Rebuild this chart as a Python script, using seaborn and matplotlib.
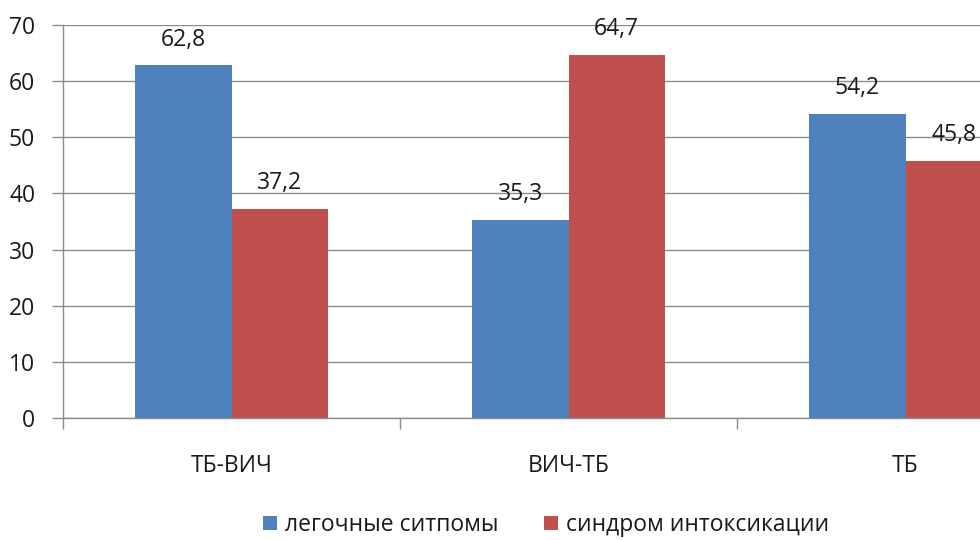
import matplotlib
matplotlib.use("Agg")
import matplotlib.pyplot as plt
from matplotlib.patches import Patch
import seaborn as sns
import pandas as pd

categories = ["ТБ-ВИЧ", "ВИЧ-ТБ", "ТБ"]
series_names = ["легочные ситпомы", "синдром интоксикации"]
lung_symptoms = [62.8, 35.3, 54.2]
intoxication = [37.2, 64.7, 45.8]
y_ticks = [0, 10, 20, 30, 40, 50, 60, 70]

colors = ["#4F81BD", "#C0504D"]
grid_color = "#8C8C8C"
text_color = "#1a1a1a"
fs = 16.5

sns.set_theme(style="white")
plt.rcParams["font.family"] = ["Open Sans", "DejaVu Sans"]

df = pd.DataFrame({
    "group": categories * 2,
    "series": [series_names[0]] * 3 + [series_names[1]] * 3,
    "value": lung_symptoms + intoxication,
})

fig = plt.figure(figsize=(9.8, 5.4), dpi=100)
ax = fig.add_axes([63 / 980, 122 / 540, 1011 / 980, 393 / 540])

sns.barplot(data=df, x="group", y="value", hue="series", order=categories,
            hue_order=series_names, palette=colors, width=0.57,
            saturation=1, legend=False, linewidth=0, ax=ax)

for container, vals in zip(ax.containers, [lung_symptoms, intoxication]):
    ax.bar_label(container, labels=[f"{v:.1f}".replace(".", ",") for v in vals],
                 padding=10, fontsize=fs, color=text_color)

ax.set_xlim(-0.5, 2.5)
ax.set_ylim(0, 70)
ax.set_yticks(y_ticks)
ax.yaxis.grid(True, color=grid_color, linewidth=1)
ax.set_axisbelow(True)
ax.set_xlabel("")
ax.set_ylabel("")

for side in ["top", "right"]:
    ax.spines[side].set_visible(False)
for side in ["left", "bottom"]:
    ax.spines[side].set_color(grid_color)
    ax.spines[side].set_linewidth(1)

ax.tick_params(axis="y", which="major", left=True, length=8, width=1,
               color=grid_color, labelsize=fs, labelcolor=text_color, pad=12)
ax.set_xticks([0, 1, 2])
ax.set_xticklabels(categories)
ax.tick_params(axis="x", which="major", bottom=False, labelsize=fs,
               labelcolor=text_color, pad=20)
ax.set_xticks([-0.5, 0.5, 1.5, 2.5], minor=True)
ax.tick_params(axis="x", which="minor", bottom=True, length=8, width=1,
               color=grid_color)

handles = [Patch(facecolor=c, edgecolor="none") for c in colors]
fig.legend(handles, series_names, loc="center", bbox_to_anchor=(546 / 980, 15 / 540),
           ncol=2, frameon=False, fontsize=fs, handlelength=0.6,
           handleheight=0.6, handletextpad=0.35, columnspacing=2.0,
           labelcolor=text_color, borderpad=0.1)

fig.savefig("out.png", dpi=100, facecolor="white")
